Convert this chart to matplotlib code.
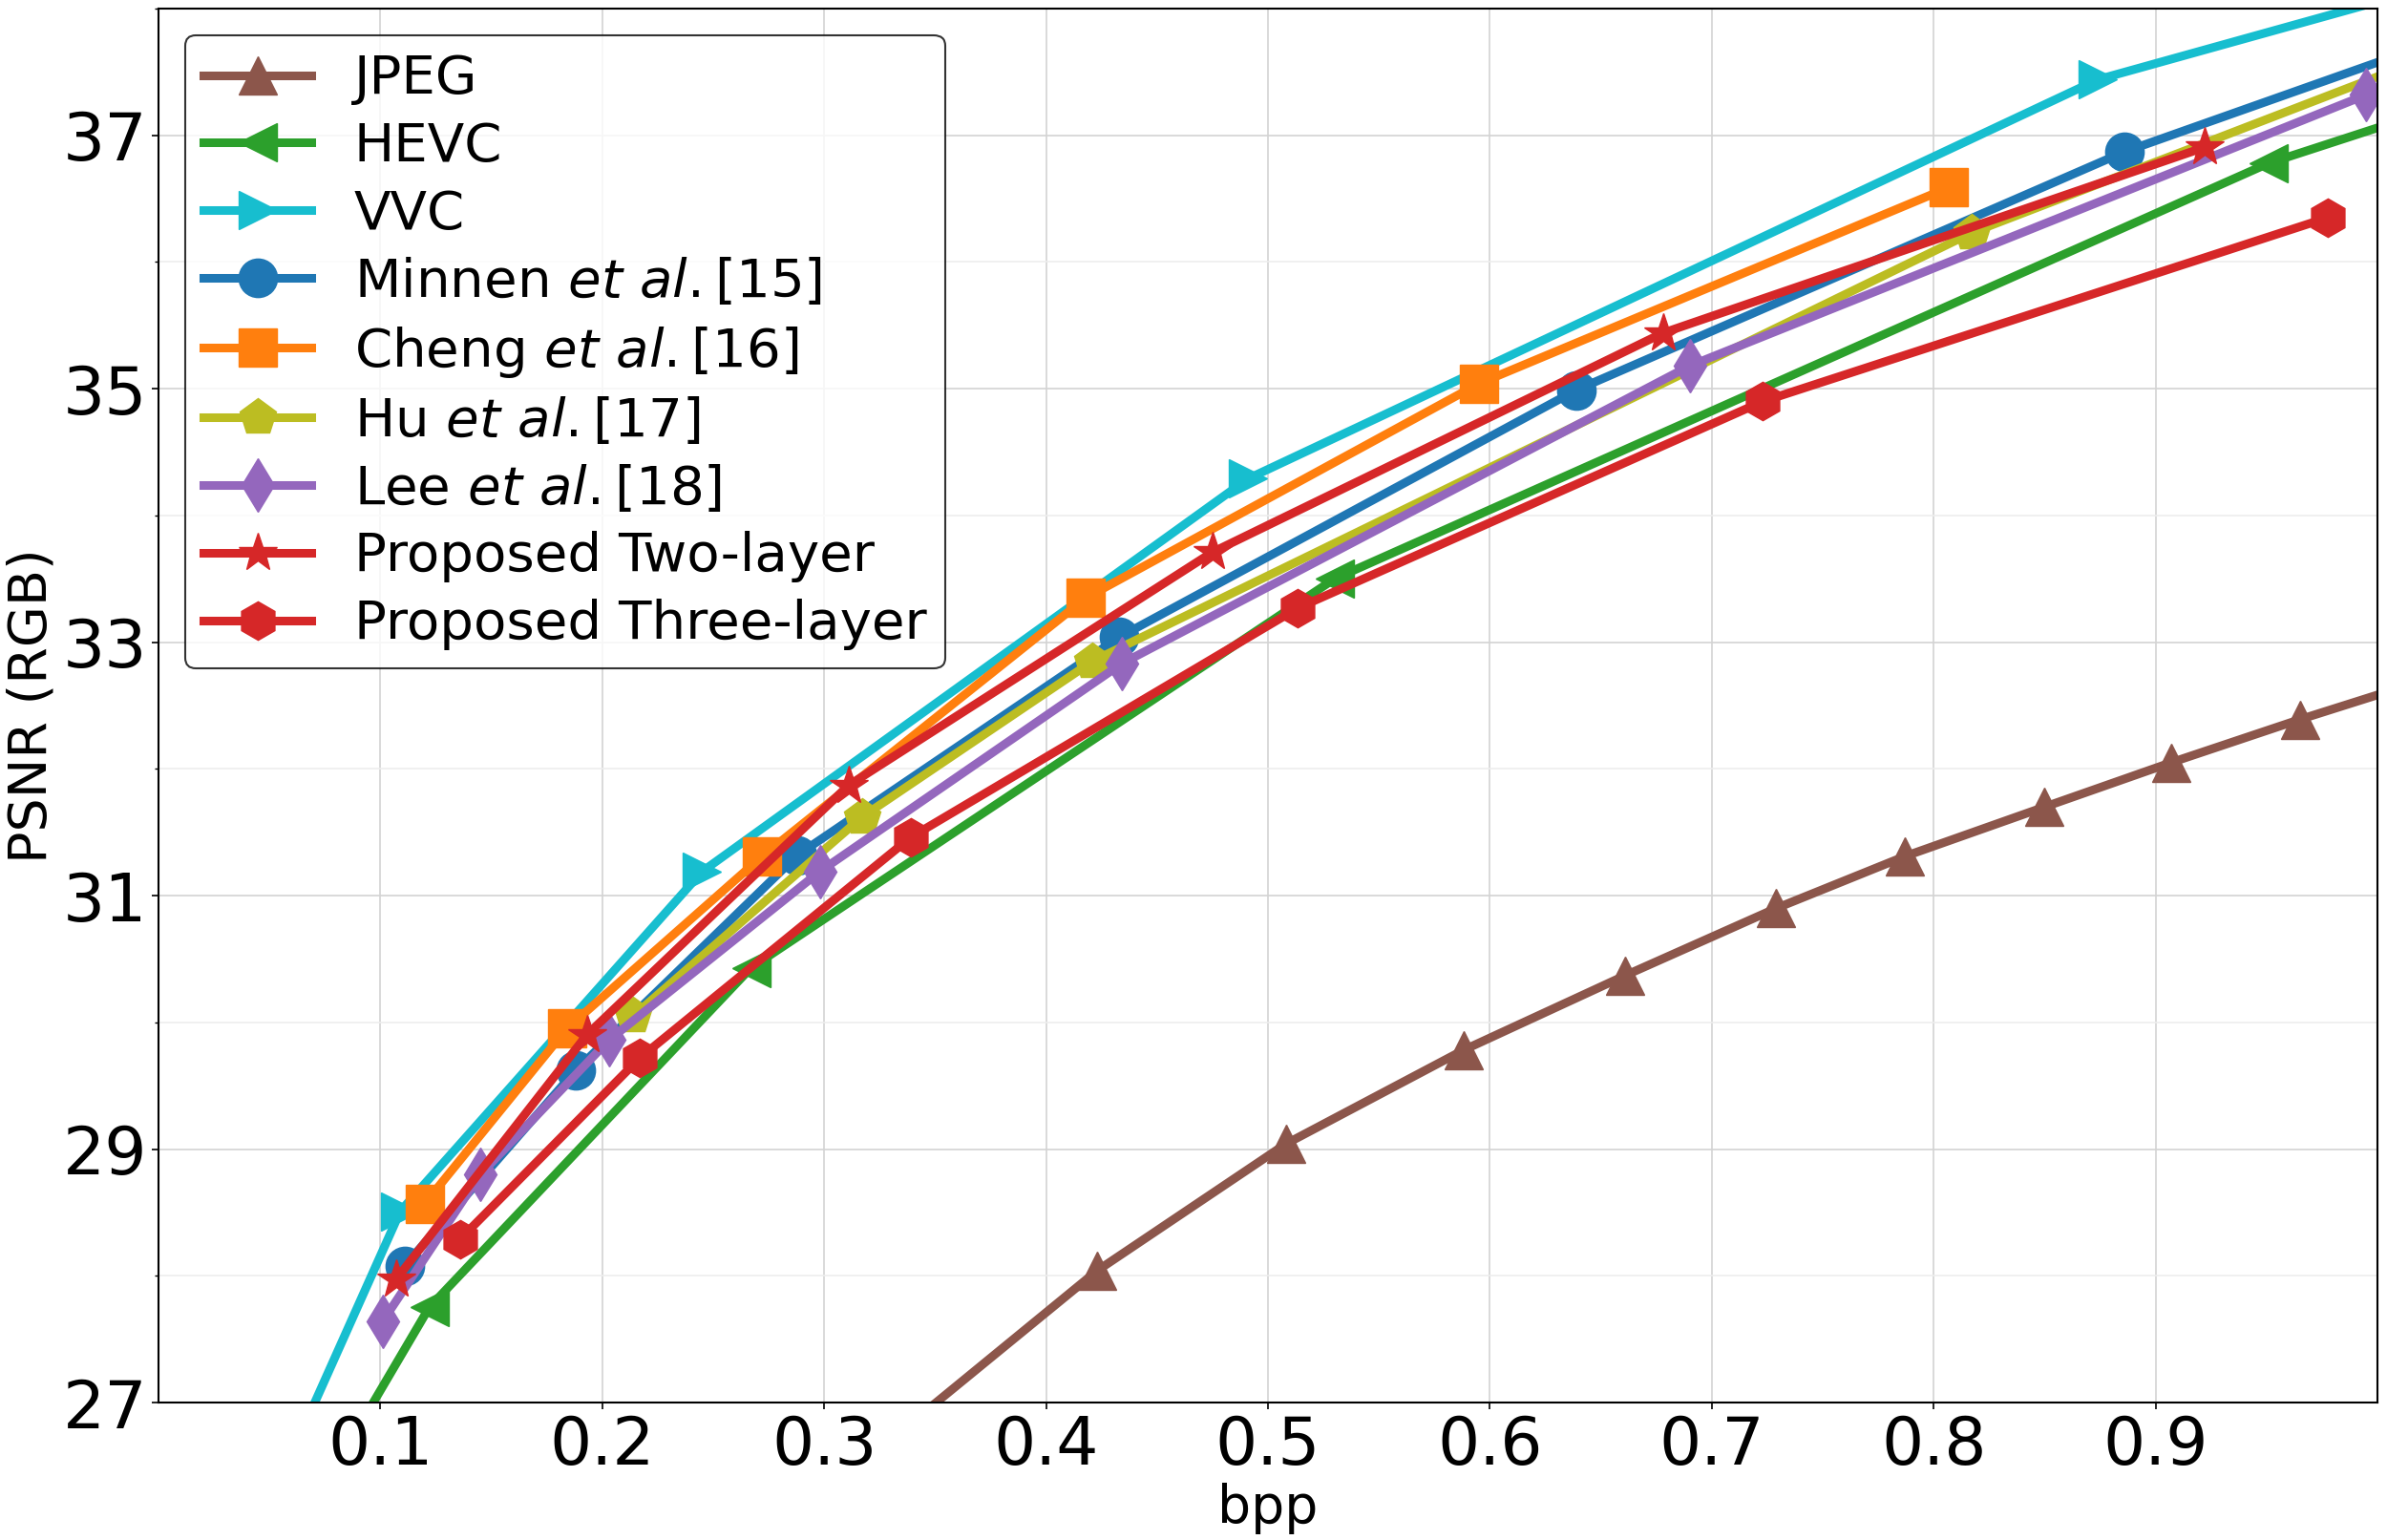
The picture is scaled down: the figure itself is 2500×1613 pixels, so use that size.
import matplotlib
matplotlib.use("Agg")
import matplotlib.pyplot as plt
from matplotlib.ticker import FixedLocator

# ---- data ----
jpeg_bpp = [0.34, 0.423, 0.508, 0.588, 0.661, 0.729, 0.787, 0.850, 0.907, 0.965, 1.03]
jpeg_psnr = [26.85, 28.04, 29.04, 29.78, 30.37, 30.90, 31.31, 31.70, 32.05, 32.39, 32.75]

hevc_bpp = [0.08, 0.122, 0.267, 0.530, 0.951, 1.03]
hevc_psnr = [26.5, 27.75, 30.43, 33.50, 36.78, 37.23]

vvc_bpp = [0.05, 0.109, 0.245, 0.491, 0.874, 1.03]
vvc_psnr = [26.2, 28.51, 31.19, 34.29, 37.44, 38.2]

minnen_bpp = [0.111, 0.188, 0.288, 0.433, 0.639, 0.886, 1.02]
minnen_psnr = [28.08, 29.62, 31.32, 33.04, 34.99, 36.87, 37.70]

cheng_bpp = [0.120, 0.184, 0.272, 0.418, 0.595, 0.807]
cheng_psnr = [28.57, 29.95, 31.31, 33.35, 35.04, 36.59]

hu_bpp = [0.214, 0.317, 0.421, 0.817, 1.01]
hu_psnr = [30.05, 31.62, 32.85, 36.23, 37.53]

lee_bpp = [0.101, 0.145, 0.203, 0.298, 0.434, 0.690, 0.995]
lee_psnr = [27.64, 28.80, 29.86, 31.19, 32.83, 35.18, 37.32]

two_bpp = [0.107, 0.193, 0.311, 0.475, 0.678, 0.922]
two_psnr = [27.97, 29.90, 31.87, 33.71, 35.44, 36.905]

three_bpp = [0.136, 0.217, 0.339, 0.5135, 0.723, 0.9775]
three_psnr = [28.29, 29.72, 31.46, 33.27, 34.90, 36.35]

labels = ["JPEG", "HEVC", "VVC",
          r"Minnen $\it{et\ al.}$[15]",
          r"Cheng $\it{et\ al.}$[16]",
          r"Hu $\it{et\ al.}$[17]",
          r"Lee $\it{et\ al.}$[18]",
          "Proposed Two-layer",
          "Proposed Three-layer"]

x_ticks = [0.1, 0.2, 0.3, 0.4, 0.5, 0.6, 0.7, 0.8, 0.9]
y_ticks = [27, 29, 31, 33, 35, 37]
y_minor = [28, 30, 32, 34, 36, 38]

series = [
    (jpeg_bpp, jpeg_psnr, "#8c564b", "^"),
    (hevc_bpp, hevc_psnr, "#2ca02c", "<"),
    (vvc_bpp, vvc_psnr, "#17becf", ">"),
    (minnen_bpp, minnen_psnr, "#1f77b4", "o"),
    (cheng_bpp, cheng_psnr, "#ff7f0e", "s"),
    (hu_bpp, hu_psnr, "#bcbd22", "p"),
    (lee_bpp, lee_psnr, "#9467bd", "d"),
    (two_bpp, two_psnr, "#d62728", "*"),
    (three_bpp, three_psnr, "#d62728", "h"),
]

plt.rcParams['font.family'] = ['DejaVu Sans']
plt.rcParams['mathtext.fontset'] = 'dejavusans'

fig = plt.figure(figsize=(25, 16.13), dpi=100)
ax = fig.add_axes([166/2500, 1 - 1469/1613, (2490 - 166)/2500, (1469 - 9)/1613])

for (xs, ys, c, m), lab in zip(series, labels):
    ms = 30 if m == "*" else 29
    ax.plot(xs, ys, color=c, marker=m, lw=6.5, markersize=ms, label=lab)

ax.set_xlim(0, 1.0)
ax.set_ylim(27, 38)
ax.xaxis.set_major_locator(FixedLocator(x_ticks))
ax.yaxis.set_major_locator(FixedLocator(y_ticks))
ax.yaxis.set_minor_locator(FixedLocator(y_minor))
ax.tick_params(axis='both', which='major', labelsize=50, length=5, width=1.2)
ax.tick_params(axis='y', which='minor', length=3, width=1)

ax.grid(which='major', color='#d3d3d3', lw=1.2)
ax.grid(which='minor', axis='y', color='#ededed', lw=1.2)
ax.set_axisbelow(True)

for s in ax.spines.values():
    s.set_linewidth(1.5)
    s.set_color('black')

ax.set_xlabel("bpp", fontsize=40)
ax.set_ylabel("PSNR (RGB)", fontsize=40)

leg = ax.legend(loc='upper left', fontsize=40.5, handlelength=2.0,
                labelspacing=0.30, borderpad=0.34, frameon=True, fancybox=True)
leg.get_frame().set_edgecolor('black')
leg.get_frame().set_linewidth(1.5)

fig.savefig("out.png", dpi=100)
